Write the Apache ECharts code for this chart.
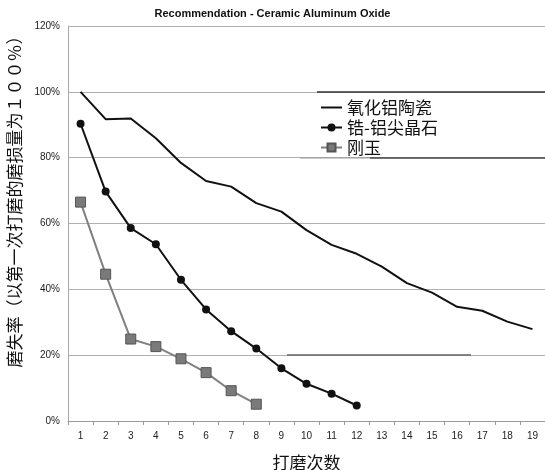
<!DOCTYPE html>
<html>
<head>
<meta charset="utf-8">
<script src="https://cdn.jsdelivr.net/npm/echarts@6/dist/echarts.min.js"></script>
<style>html,body{margin:0;padding:0;background:#fff}#c{width:545px;height:470px}</style>
</head>
<body>
<div id="c"></div>
<script>
var categories = ['1','2','3','4','5','6','7','8','9','10','11','12','13','14','15','16','17','18','19'];
var ceramic = [100, 91.7, 91.9, 85.9, 78.4, 72.9, 71.2, 66.2, 63.6, 58.0, 53.5, 50.8, 46.9, 41.9, 39.0, 34.7, 33.5, 30.2, 27.9];
var zirconia = [90.3, 69.7, 58.6, 53.7, 42.9, 33.9, 27.3, 22.0, 16.0, 11.3, 8.3, 4.7];
var corundum = [66.5, 44.6, 24.9, 22.6, 18.9, 14.7, 9.2, 5.1];
var seriesNames = ['氧化铝陶瓷', '锆-铝尖晶石', '刚玉'];
var yTicks = [0, 20, 40, 60, 80, 100, 120];

var chart = echarts.init(document.getElementById('c'));
var cjk = '"Noto Sans CJK SC", "Noto Sans", sans-serif';
chart.setOption({
  animation: false,
  backgroundColor: '#fff',
  title: {
    text: 'Recommendation - Ceramic Aluminum Oxide',
    left: 'center',
    top: 3,
    textStyle: { fontSize: 11, fontWeight: 'bold', color: '#111', fontFamily: 'Arial, "Liberation Sans", sans-serif' }
  },
  grid: { left: 68, right: 0, top: 26, bottom: 49, containLabel: false, outerBoundsMode: 'none' },
  legend: {
    orient: 'vertical',
    left: 315,
    top: 94,
    itemWidth: 21,
    itemHeight: 10,
    itemGap: 3,
    data: [
      { name: seriesNames[0], itemStyle: { opacity: 0 } },
      { name: seriesNames[1] },
      { name: seriesNames[2] }
    ],
    textStyle: { fontSize: 17, color: '#111', fontFamily: cjk }
  },
  xAxis: {
    type: 'category',
    data: categories,
    boundaryGap: true,
    name: '打磨次数',
    nameLocation: 'middle',
    nameGap: 33,
    nameTextStyle: { fontSize: 17, color: '#111', fontFamily: cjk },
    axisLine: { lineStyle: { color: '#999', width: 1 } },
    axisTick: { show: true, length: 4, lineStyle: { color: '#999' } },
    axisLabel: { fontSize: 10, color: '#222', margin: 10, fontFamily: 'Arial, "Liberation Sans", sans-serif' },
    splitLine: { show: false }
  },
  yAxis: {
    type: 'value',
    min: yTicks[0],
    max: yTicks[yTicks.length - 1],
    interval: 20,
    name: '磨失率（以第一次打磨的磨损量为１００％）',
    nameLocation: 'middle',
    nameGap: 42,
    nameTextStyle: { fontSize: 17, color: '#111', fontFamily: cjk, padding: [0, 0, 0, 52] },
    axisLine: { show: true, lineStyle: { color: '#aaa', width: 1 } },
    axisTick: { show: false },
    axisLabel: { fontSize: 10, color: '#222', margin: 8, formatter: '{value}%', fontFamily: 'Arial, "Liberation Sans", sans-serif' },
    splitLine: { lineStyle: { color: '#b0b0b0', width: 1 } }
  },
  series: [
    {
      name: seriesNames[0], type: 'line', data: ceramic,
      symbol: 'none', lineStyle: { color: '#111', width: 2 }, itemStyle: { color: '#111' }
    },
    {
      name: seriesNames[1], type: 'line', data: zirconia,
      symbol: 'circle', symbolSize: 8, showSymbol: true,
      lineStyle: { color: '#111', width: 2 }, itemStyle: { color: '#111' }
    },
    {
      name: seriesNames[2], type: 'line', data: corundum,
      symbol: 'rect', symbolSize: 10, showSymbol: true,
      lineStyle: { color: '#808080', width: 2 }, itemStyle: { color: '#7a7a7a', borderColor: '#555', borderWidth: 1 }
    }
  ],
  graphic: [
    { type: 'line', shape: { x1: 317, y1: 92, x2: 545, y2: 92 }, style: { stroke: '#333', lineWidth: 1.5 }, z: 1 },
    { type: 'line', shape: { x1: 300, y1: 158, x2: 370, y2: 158 }, style: { stroke: '#999', lineWidth: 1 }, z: 1 },
    { type: 'line', shape: { x1: 370, y1: 158, x2: 545, y2: 158 }, style: { stroke: '#444', lineWidth: 1.5 }, z: 1 },
    { type: 'line', shape: { x1: 287, y1: 355, x2: 471, y2: 355 }, style: { stroke: '#666', lineWidth: 1.5 }, z: 1 }
  ]
});
</script>
</body>
</html>
